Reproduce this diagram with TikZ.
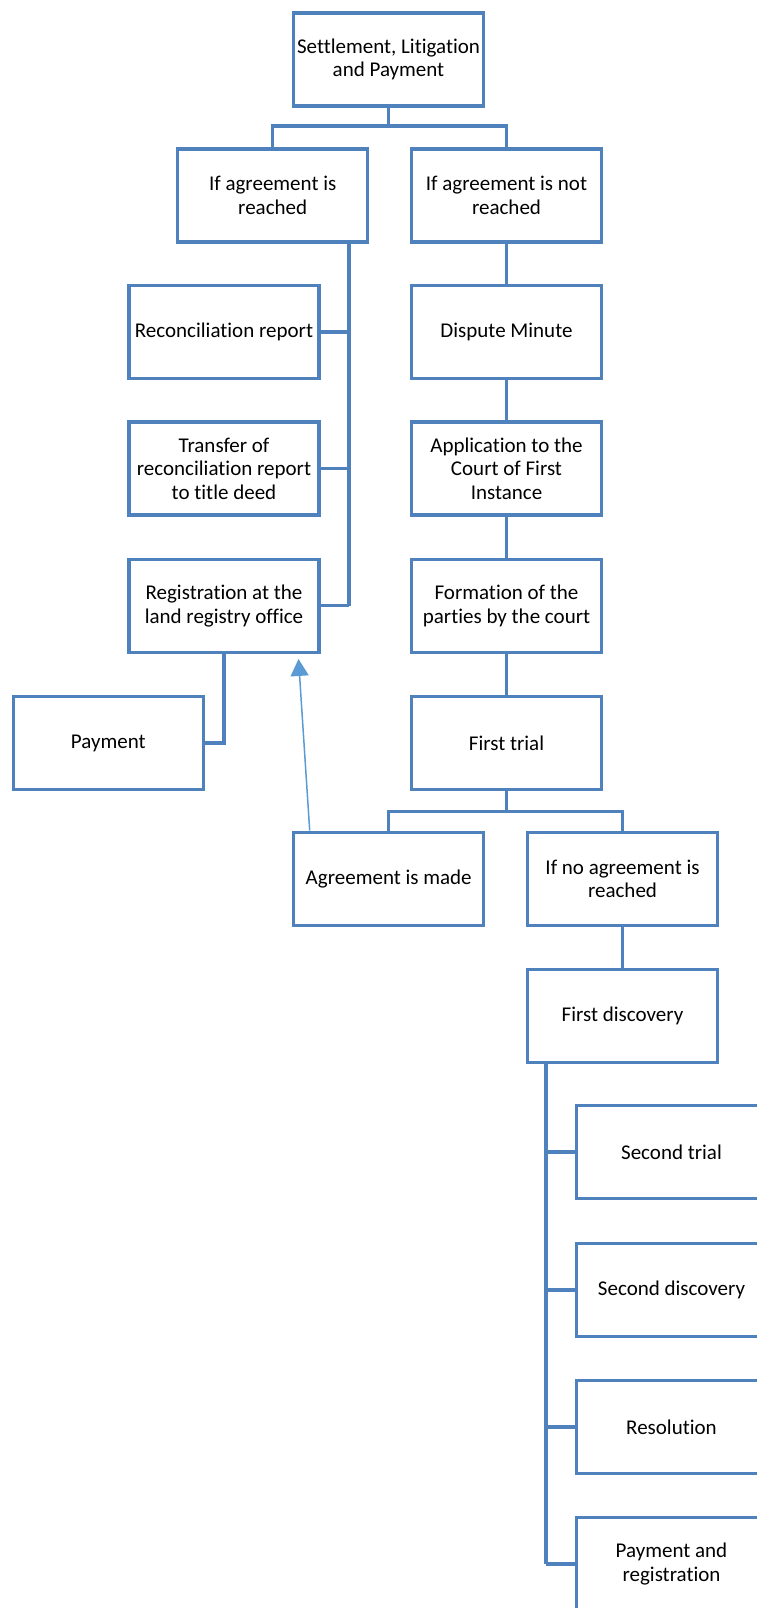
\documentclass[tikz,border=0pt]{standalone}
\usepackage{fontspec}
\setmainfont[Ligatures=NoCommon]{Carlito}
\usetikzlibrary{arrows.meta,calc}
\definecolor{boxblue}{RGB}{79,129,189}
\definecolor{arrowblue}{RGB}{91,155,213}
\begin{document}
\begin{tikzpicture}[x=1pt,y=-1pt,
  stepbox/.style={draw=boxblue,line width=3.3pt,fill=white,minimum width=190pt,minimum height=93pt,
    inner sep=0pt,align=center,font=\fontsize{21}{23.5}\selectfont},
  link/.style={draw=boxblue,line width=3.3pt},
  arrowlink/.style={draw=arrowblue,line width=1.5pt,-{Triangle[length=17pt,width=18pt]}}]
\useasboundingbox (0,0) rectangle (757,1608);
\clip (0,0) rectangle (757,1608);
% nodes
\node[stepbox] (top) at (388.5,59.5) {Settlement, Litigation\\and Payment};
\node[stepbox] (reached) at (272.7,195.4) {If agreement is\\reached};
\node[stepbox] (notreached) at (506.5,195.4) {If agreement is not\\reached};
\node[stepbox] (recon) at (224,332) {Reconciliation report};
\node[stepbox] (dispute) at (506.5,332) {Dispute Minute};
\node[stepbox] (transfer) at (224,468.5) {Transfer of\\reconciliation report\\to title deed};
\node[stepbox] (application) at (506.5,468.5) {Application to the\\Court of First\\Instance};
\node[stepbox] (registration) at (224,605.8) {Registration at the\\land registry office};
\node[stepbox] (formation) at (506.5,605.8) {Formation of the\\parties by the court};
\node[stepbox] (payment) at (108.3,743) {Payment};
\node[stepbox] (firsttrial) at (506.5,743) {First trial};
\node[stepbox] (agreementmade) at (388.7,878.7) {Agreement is made};
\node[stepbox] (noagreement) at (622.5,878.7) {If no agreement is\\reached};
\node[stepbox] (firstdiscovery) at (622.5,1016) {First discovery};
\node[stepbox] (secondtrial) at (671.5,1152) {Second trial};
\node[stepbox] (seconddisc) at (671.5,1290) {Second discovery};
\node[stepbox] (resolution) at (671.5,1427) {Resolution};
\node[stepbox] (payreg) at (671.5,1564) {Payment and\\registration};
% helper coordinates
\coordinate (j1) at (388.5,126);
\coordinate (ltrunk) at (349,0);
\coordinate (j2) at (506.5,811.7);
\coordinate (rtrunk) at (546,0);
% connectors
\draw[link] (top.south) -- (j1);
\draw[link] (j1) -| (reached.north);
\draw[link] (j1) -| (notreached.north);
\draw[link] (reached.south -| ltrunk) -- (registration.east -| ltrunk);
\draw[link] (recon.east) -- (recon.east -| ltrunk);
\draw[link] (transfer.east) -- (transfer.east -| ltrunk);
\draw[link] (registration.east) -- (registration.east -| ltrunk);
\draw[link] (notreached) -- (dispute);
\draw[link] (dispute) -- (application);
\draw[link] (application) -- (formation);
\draw[link] (formation) -- (firsttrial);
\draw[link] (firsttrial.south) -- (j2);
\draw[link] (j2) -| (agreementmade.north);
\draw[link] (j2) -| (noagreement.north);
\draw[link] (noagreement) -- (firstdiscovery);
\draw[link] (firstdiscovery.south -| rtrunk) -- (payreg.west -| rtrunk);
\draw[link] (secondtrial.west) -- (secondtrial.west -| rtrunk);
\draw[link] (seconddisc.west) -- (seconddisc.west -| rtrunk);
\draw[link] (resolution.west) -- (resolution.west -| rtrunk);
\draw[link] (payreg.west) -- (payreg.west -| rtrunk);
\draw[link] (registration.south) |- (payment.east);
\draw[arrowlink] ($(agreementmade.north)+(-79,0)$) -- ($(registration.south)+(74.5,5)$);
\end{tikzpicture}
\end{document}
